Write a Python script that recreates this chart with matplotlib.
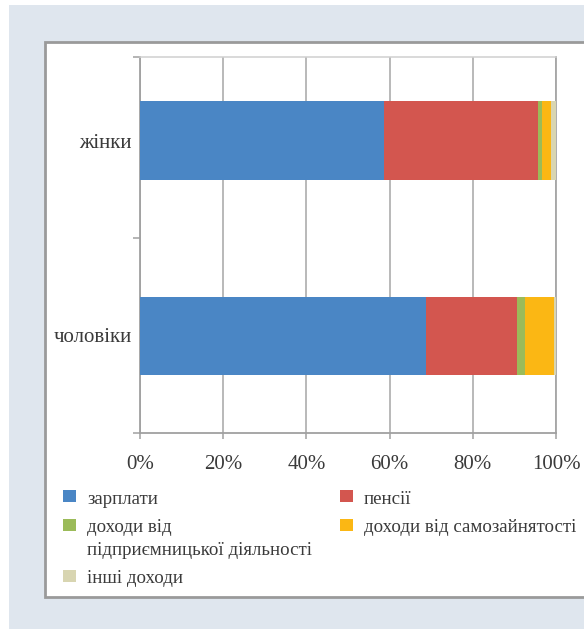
import matplotlib
matplotlib.use("Agg")
import matplotlib.pyplot as plt
from matplotlib.patches import Rectangle

plt.rcParams['font.family'] = ['Liberation Serif', 'DejaVu Serif']

categories = ["чоловіки", "жінки"]
series_names = ["зарплати", "пенсії", "доходи від\nпідприємницької діяльності",
                "доходи від самозайнятості", "інші доходи"]
series_colors = ["#4a86c5", "#d3564f", "#9bbb59", "#fbb714", "#d8d5b1"]
# values (%) for [чоловіки, жінки]
zarplaty = [68.7, 58.7]
pensii = [21.9, 36.9]
pidpryiemn = [1.9, 1.0]
samozainiat = [6.9, 2.2]
inshi = [0.6, 1.2]
values = [zarplaty, pensii, pidpryiemn, samozainiat, inshi]
xticks = [0, 20, 40, 60, 80, 100]
xticklabels = ["0%", "20%", "40%", "60%", "80%", "100%"]

W, H = 584, 629
fig = plt.figure(figsize=(W / 100, H / 100), dpi=100, facecolor="white")

def fx(px):
    return px / W

def fy(py):
    return 1 - py / H

# background panels
fig.patches.append(Rectangle((fx(9), 0), 1, fy(5), transform=fig.transFigure,
                             facecolor="#dfe6ee", edgecolor="none", zorder=0))
fig.patches.append(Rectangle((fx(45), fy(597)), 1, fy(42) - fy(597), transform=fig.transFigure,
                             facecolor="white", edgecolor="#9a9a9a", linewidth=2.0, zorder=1))

text_color = "#3a3a3a"
grid_color = "#a6a6a6"
fs = 15
legend_fs = 13.6

ax = fig.add_axes([fx(140), fy(433), fx(556) - fx(140), fy(57) - fy(433)])
ax.set_facecolor("white")
ax.set_zorder(2)

ypos = list(range(len(categories)))
left = [0.0] * len(categories)
for name, color, vals in zip(series_names, series_colors, values):
    ax.barh(ypos, vals, left=left, height=0.4, color=color, edgecolor="none", zorder=3)
    left = [l + v for l, v in zip(left, vals)]

ax.set_xlim(0, 100)
ytop = -0.5 + (433 - 57) / 195
ax.set_ylim(-0.5, ytop)

ax.set_xticks(xticks)
ax.set_xticklabels(xticklabels, fontsize=fs, color=text_color)
ax.set_yticks([-0.5, 0.5, ytop])
ax.set_yticklabels([])
ax.set_yticks(ypos, minor=True)
ax.set_yticklabels(categories, minor=True, fontsize=fs, color=text_color)
ax.tick_params(axis="y", which="minor", length=0, pad=6)
ax.tick_params(axis="y", which="major", length=5, width=1.1, color="#a0a0a0", direction="out")
ax.tick_params(axis="x", which="major", length=4.5, width=1.1, color="#a0a0a0", direction="out", pad=11)

ax.grid(axis="x", color=grid_color, linewidth=1.1, zorder=1)
ax.set_axisbelow(True)
for side in ["left", "bottom"]:
    ax.spines[side].set_color("#a0a0a0")
    ax.spines[side].set_linewidth(1.3)
ax.spines["top"].set_color("#cfcfcf")
ax.spines["top"].set_linewidth(1.1)
ax.spines["right"].set_color(grid_color)
ax.spines["right"].set_linewidth(1.3)

# legend (manual layout, two columns): marker-left x, marker-centre y
legend_pos = [(63, 496), (340, 496), (63, 525), (340, 525), (63, 575.5)]
for name, color, (lx, ly) in zip(series_names, series_colors, legend_pos):
    fig.patches.append(Rectangle((fx(lx), fy(ly + 6)), fx(13), fy(0) - fy(12),
                                 transform=fig.transFigure, facecolor=color,
                                 edgecolor="none", zorder=3))
    fig.text(fx(lx + 24), fy(ly - 5.5), name, fontsize=legend_fs, color=text_color,
             ha="left", va="top", linespacing=1.39, zorder=4)

fig.savefig("out.png", dpi=100, facecolor=fig.get_facecolor())
